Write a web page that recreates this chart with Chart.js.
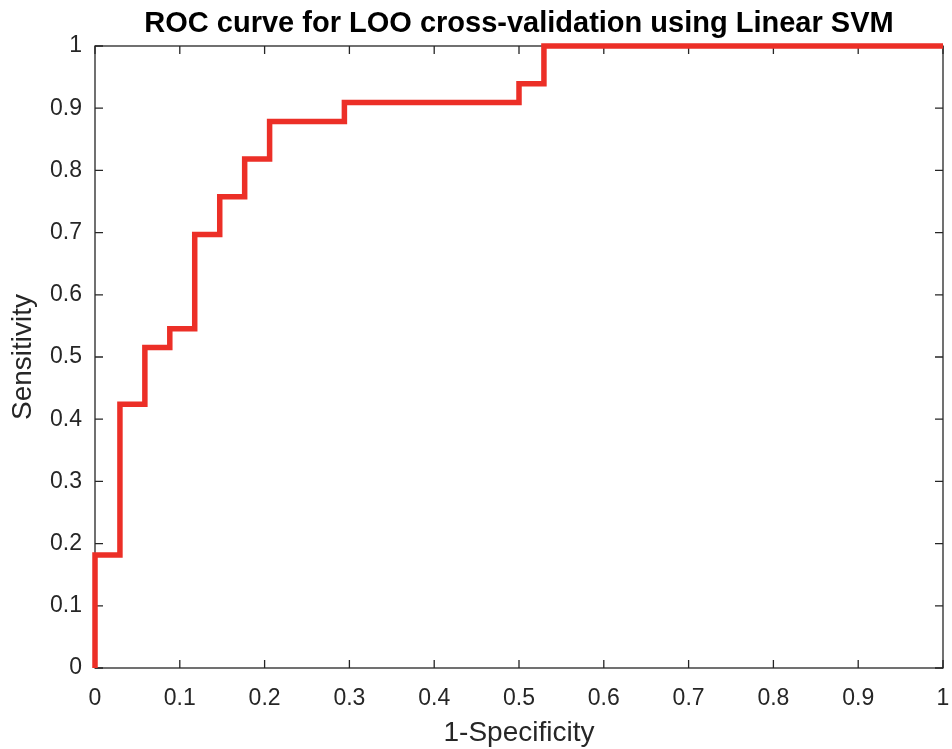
<!DOCTYPE html>
<html>
<head>
<meta charset="utf-8">
<script src="https://cdn.jsdelivr.net/npm/chart.js@4.4.0/dist/chart.umd.min.js"></script>
<style>
  html, body { margin: 0; padding: 0; background: #fff; }
  #wrap { width: 952px; height: 749px; }
</style>
</head>
<body>
<div id="wrap"><canvas id="roc"></canvas></div>
<script>
/* ===== DATA ===== */
// corner points of the ROC step curve (1-specificity, sensitivity)
const fpr = [0, 0, 0.0294, 0.0294, 0.0588, 0.0588, 0.0882, 0.0882, 0.1176, 0.1176,
             0.1471, 0.1471, 0.1765, 0.1765, 0.2059, 0.2059, 0.2941, 0.2941,
             0.5, 0.5, 0.5294, 0.5294, 1];
const tpr = [0, 0.1818, 0.1818, 0.4242, 0.4242, 0.5152, 0.5152, 0.5455, 0.5455, 0.6970,
             0.6970, 0.7576, 0.7576, 0.8182, 0.8182, 0.8788, 0.8788, 0.9091,
             0.9091, 0.9394, 0.9394, 1, 1];
const axisTicks = [0, 0.1, 0.2, 0.3, 0.4, 0.5, 0.6, 0.7, 0.8, 0.9, 1];

const AXIS_COLOR = '#262626';
const TICK_LEN = 8;
const tickFont = { family: 'Liberation Sans', size: 23 };
const labelFont = { family: 'Liberation Sans', size: 28, lineHeight: 1.2 };

/* ===== BOX + INWARD TICKS (MATLAB style) ===== */
const boxPlugin = {
  id: 'matlabBox',
  beforeDatasetsDraw(chart) {
    const { ctx, chartArea: a, scales: { x, y } } = chart;
    ctx.save();
    ctx.strokeStyle = AXIS_COLOR;
    ctx.lineWidth = 1.3;
    ctx.strokeRect(a.left, a.top, a.right - a.left, a.bottom - a.top);
    ctx.beginPath();
    axisTicks.forEach(v => {
      const px = x.getPixelForValue(v);
      ctx.moveTo(px, a.bottom); ctx.lineTo(px, a.bottom - TICK_LEN);
      ctx.moveTo(px, a.top); ctx.lineTo(px, a.top + TICK_LEN);
      const py = y.getPixelForValue(v);
      ctx.moveTo(a.left, py); ctx.lineTo(a.left + TICK_LEN, py);
      ctx.moveTo(a.right, py); ctx.lineTo(a.right - TICK_LEN, py);
    });
    ctx.stroke();
    ctx.restore();
  }
};

const fmt = v => String(+(+v).toFixed(1));

new Chart(document.getElementById('roc'), {
  type: 'scatter',
  data: {
    datasets: [{
      data: fpr.map((f, i) => ({ x: f, y: tpr[i] })),
      showLine: true,
      borderColor: '#ec2f27',
      borderWidth: 5.5,
      borderJoinStyle: 'miter',
      pointRadius: 0,
      tension: 0,
      clip: false
    }]
  },
  options: {
    responsive: true, maintainAspectRatio: false,
    animation: false,
    layout: { padding: { left: 0, right: 9, top: 0, bottom: 0 } },
    plugins: {
      legend: { display: false },
      tooltip: { enabled: false },
      title: {
        display: true,
        fullSize: false,
        text: 'ROC curve for LOO cross-validation using Linear SVM',
        color: '#000',
        font: { family: 'Liberation Sans', size: 29, weight: 'bold', lineHeight: 1.2 },
        padding: { top: 6.6, bottom: 4.6 }
      }
    },
    scales: {
      x: {
        type: 'linear', min: 0, max: 1,
        afterBuildTicks: s => { s.ticks = axisTicks.map(v => ({ value: v })); },
        afterFit: s => { s.height = 81; s.paddingLeft = 0; s.paddingRight = 0; },
        grid: { display: false, drawTicks: false },
        border: { display: false },
        ticks: { font: tickFont, color: AXIS_COLOR, padding: 17, maxRotation: 0, callback: fmt },
        title: {
          display: true, text: '1-Specificity', color: AXIS_COLOR,
          font: labelFont,
          padding: { top: 0, bottom: -1 }
        }
      },
      y: {
        type: 'linear', min: 0, max: 1,
        afterBuildTicks: s => { s.ticks = axisTicks.map(v => ({ value: v })); },
        afterFit: s => { s.width = 95; s.paddingTop = 0; s.paddingBottom = 0; },
        grid: { display: false, drawTicks: false },
        border: { display: false },
        ticks: { font: tickFont, color: AXIS_COLOR, padding: 13, callback: fmt },
        title: {
          display: true, text: 'Sensitivity', color: AXIS_COLOR,
          font: labelFont,
          padding: { top: 6, bottom: 0 }
        }
      }
    }
  },
  plugins: [boxPlugin]
});
</script>
</body>
</html>
